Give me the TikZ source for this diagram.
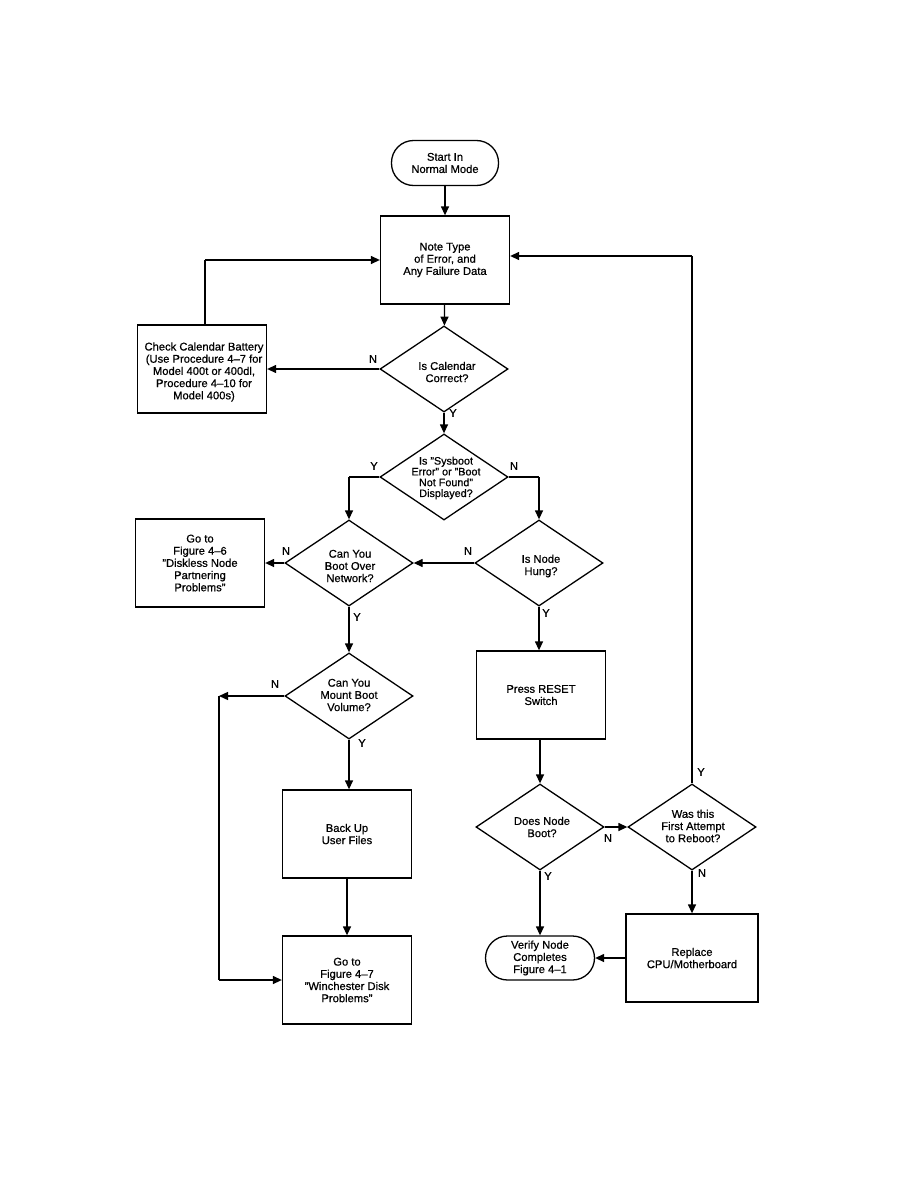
\documentclass[tikz,border=0pt]{standalone}
\usepackage{fontspec}
\setmainfont{Liberation Sans}[FakeBold=0.6]
\usetikzlibrary{shapes.geometric,arrows.meta}
\begin{document}
\begin{tikzpicture}[x=1pt,y=-1pt,
  every node/.style={font=\fontsize{11.2}{12.2}\selectfont},
  box/.style={draw,line width=1.3pt,rectangle,minimum width=129pt,minimum height=88pt,inner sep=0pt,align=center},
  term/.style={draw,line width=1.3pt,rectangle,rounded corners=22pt,minimum width=107pt,minimum height=45pt,inner sep=0pt,align=center},
  dia/.style={draw,line width=1.3pt,diamond,minimum width=128pt,minimum height=86pt,inner sep=0pt},
  txt/.style={align=center,inner sep=0pt},
  lbl/.style={inner sep=0pt,font=\fontsize{11}{12}\selectfont},
  conn/.style={line width=1.3pt,-{Triangle[length=9pt,width=8pt]}},
  plain/.style={line width=1.3pt}]
\useasboundingbox (0,0) rectangle (918,1188);
\fill[white] (0,0) rectangle (918,1188);

% nodes
\node[term] (start) at (445,163) {Start In\\Normal Mode};
\node[box] (note) at (445,260) {Note Type\\of Error, and\\Any Failure Data};
\node[box] (check) at (202,369) {};
\node[txt] (checkt) at (204,372) {Check Calendar Battery\\(Use Procedure 4--7 for\\Model 400t or 400dl,\\Procedure 4--10 for\\Model 400s)};
\node[dia] (cal) at (444,369) {};
\node[txt] at (447,372) {Is Calendar\\Correct?};
\node[dia] (sys) at (444,477) {};
\node[txt,font=\fontsize{10.8}{10.8}\selectfont] at (446,478) {Is "Sysboot\\Error" or "Boot\\Not Found"\\Displayed?};
\node[dia] (boot) at (349,563) {};
\node[txt] at (350,566) {Can You\\Boot Over\\Network?};
\node[box] (fig46) at (200,563) {Go to\\Figure 4--6\\"Diskless Node\\Partnering\\Problems"};
\node[dia] (hung) at (539,563) {};
\node[txt] at (541,566) {Is Node\\Hung?};
\node[box] (reset) at (541,695) {Press RESET\\Switch};
\node[dia] (mount) at (349,696) {};
\node[txt] at (349,695) {Can You\\Mount Boot\\Volume?};
\node[box] (backup) at (347,834) {Back Up\\User Files};
\node[box] (fig47) at (347,980) {Go to\\Figure 4--7\\"Winchester Disk\\Problems"};
\node[dia] (does) at (540,827) {};
\node[txt] at (542,827) {Does Node\\Boot?};
\node[dia] (first) at (692,827) {};
\node[txt] at (693,826) {Was this\\First Attempt\\to Reboot?};
\node[box,minimum width=132pt] (replace) at (692,958) {Replace\\CPU/Motherboard};
\node[term,minimum width=109pt,minimum height=44pt] (verify) at (540,958) {Verify Node\\Completes\\Figure 4--1};

% coordinates
\coordinate (c1) at (205,260);
\coordinate (c2) at (349,477);
\coordinate (c3) at (539,477);
\coordinate (c4) at (219,696);
\coordinate (c5) at (219,980);
\coordinate (c6) at (692,256);

% connectors
\draw[conn] (start) -- (note);
\draw[conn] (note) -- (cal);
\draw[conn] (cal.west) -- (check.east);
\draw[plain] (check.north -| c1) -- (c1);
\draw[conn] (c1) -- (note.west |- c1);
\draw[conn] (cal) -- (sys);
\draw[plain] (sys.west) -- (c2);
\draw[conn] (c2) -- (boot.north);
\draw[plain] (sys.east) -- (c3);
\draw[conn] (c3) -- (hung.north);
\draw[conn] (boot.west) -- (fig46.east);
\draw[conn] (hung.west) -- (boot.east);
\draw[conn] (hung.south) -- (reset.north -| hung.south);
\draw[conn] (boot.south) -- (mount.north);
\draw[conn] (mount.west) -- (c4);
\draw[plain] (c4) -- (c5);
\draw[conn] (c5) -- (fig47.west |- c5);
\draw[conn] (mount.south) -- (backup.north -| mount.south);
\draw[conn] (backup) -- (fig47);
\draw[conn] (reset.south -| does.north) -- (does.north);
\draw[conn] (does.east) -- (first.west);
\draw[conn] (does.south) -- (verify.north);
\draw[plain] (first.north) -- (c6);
\draw[conn] (c6) -- (note.east |- c6);
\draw[conn] (first.south) -- (replace.north);
\draw[conn] (replace.west) -- (verify.east);

% labels
\node[lbl] at (373,359) {N};
\node[lbl] at (453,413) {Y};
\node[lbl] at (374,466) {Y};
\node[lbl] at (514,466) {N};
\node[lbl] at (286,551) {N};
\node[lbl] at (468,551) {N};
\node[lbl] at (357,617) {Y};
\node[lbl] at (546,613) {Y};
\node[lbl] at (275,684) {N};
\node[lbl] at (362,743) {Y};
\node[lbl] at (608,838) {N};
\node[lbl] at (548,876) {Y};
\node[lbl] at (701,772) {Y};
\node[lbl] at (702,873) {N};
\end{tikzpicture}
\end{document}
